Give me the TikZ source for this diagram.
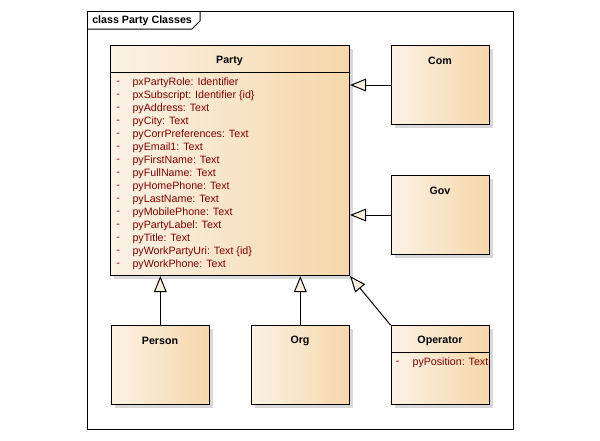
\documentclass[tikz,border=0pt]{standalone}
\usepackage{fontspec}
\setmainfont{Liberation Sans}
\usetikzlibrary{arrows.meta,shadows}
\definecolor{boxleft}{RGB}{251,242,229}
\definecolor{boxright}{RGB}{245,215,170}
\definecolor{attrcol}{RGB}{128,0,0}
\definecolor{tipfill}{RGB}{250,240,225}
\tikzset{
  x=0.75pt,y=-0.75pt,
  classbox/.style={draw=black,line width=0.75pt,left color=boxleft,right color=boxright,
    general shadow={fill=black!15,shadow xshift=2.6pt,shadow yshift=-2.6pt},
    inner sep=0pt,anchor=north west},
  ctitle/.style={font=\fontsize{8}{9}\selectfont\bfseries,inner sep=0pt},
  attr/.style={font=\fontsize{8}{9}\selectfont,text=attrcol,inner sep=0pt,anchor=west},
  gen/.style={line width=0.75pt,-{Triangle[length=12pt,width=9.5pt,fill=tipfill,line width=0.75pt]}},
  sepline/.style={line width=0.75pt}
}
\begin{document}
\begin{tikzpicture}
\useasboundingbox (0,0) rectangle (600,440);
% frame
\draw[line width=0.75pt] (87,11) rectangle (513,429);
\draw[line width=0.75pt] (87,29) -- (192,29) -- (200,21) -- (200,11);
\node[font=\fontsize{8}{9}\selectfont\bfseries,anchor=west,inner sep=0pt] (frametitle) at (92,20.5) {class Party Classes};
% Party
\node[classbox,minimum width=239*0.75pt,minimum height=230*0.75pt] (party) at (110,45) {};
\draw[sepline] (110,72.3) -- (349,72.3);
\node[ctitle] (partyt) at (229.5,60.7) {Party};
\foreach \t [count=\i from 0] in {pxPartyRole: Identifier,pxSubscript: Identifier {\{id\}},pyAddress: Text,pyCity: Text,pyCorrPreferences: Text,pyEmail1: Text,pyFirstName: Text,pyFullName: Text,pyHomePhone: Text,pyLastName: Text,pyMobilePhone: Text,pyPartyLabel: Text,pyTitle: Text,pyWorkPartyUri: Text {\{id\}},pyWorkPhone: Text}{
  \node[attr] (pd\i) at (116,82.7+13*\i) {-};
  \node[attr] (pa\i) at (132.3,82.7+13*\i) {\t};
}
% Com
\node[classbox,minimum width=98.5*0.75pt,minimum height=78.5*0.75pt] (com) at (390.7,45.3) {};
\node[ctitle] (comt) at (440,60.7) {Com};
% Gov
\node[classbox,minimum width=98.5*0.75pt,minimum height=78.5*0.75pt] (gov) at (390.7,175.3) {};
\node[ctitle] (govt) at (440,190.7) {Gov};
% Person
\node[classbox,minimum width=98.5*0.75pt,minimum height=79*0.75pt] (person) at (110.7,325.3) {};
\node[ctitle] (persont) at (160,340.7) {Person};
% Org
\node[classbox,minimum width=98.5*0.75pt,minimum height=79*0.75pt] (org) at (250.7,325.3) {};
\node[ctitle] (orgt) at (300,340.7) {Org};
% Operator
\node[classbox,minimum width=98.5*0.75pt,minimum height=79*0.75pt] (oper) at (390.7,325.3) {};
\draw[sepline] (390.7,352) -- (489.2,352);
\node[ctitle] (opert) at (440,340.7) {Operator};
\node[attr] (od0) at (395.5,362.7) {-};
\node[attr] (oa0) at (412.3,362.7) {pyPosition: Text};
% generalizations
\draw[gen] (com.west |- 0,85) -- (party.east |- 0,85);
\draw[gen] (gov.west |- 0,215) -- (party.east |- 0,215);
\draw[gen] (person.north -| 160.3,0) -- (party.south -| 160.3,0);
\draw[gen] (org.north -| 300.3,0) -- (party.south -| 300.3,0);
\draw[gen] (oper.north west) -- (party.south east);
\end{tikzpicture}
\end{document}
